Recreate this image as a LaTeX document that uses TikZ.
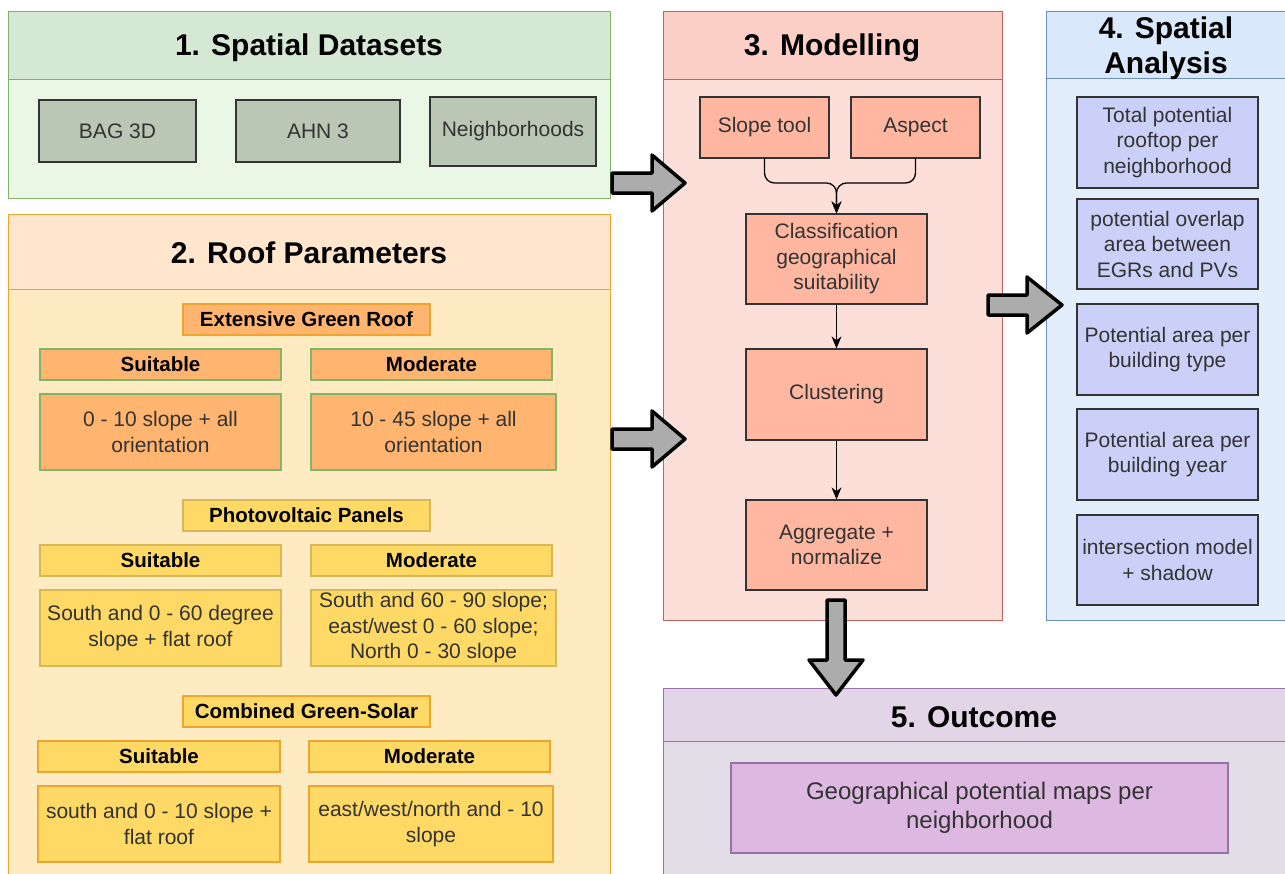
\documentclass[tikz,border=0pt]{standalone}
\usepackage{fontspec}
\setmainfont{Liberation Sans}
\usetikzlibrary{arrows.meta}

\definecolor{grnHead}{HTML}{D5E8D4}
\definecolor{grnBody}{HTML}{E9F7E4}
\definecolor{grnLine}{HTML}{82B366}
\definecolor{dataFill}{HTML}{BAC7B4}
\definecolor{orgHead}{HTML}{FFE6CC}
\definecolor{orgBody}{HTML}{FFEBC2}
\definecolor{orgLine}{HTML}{EFA430}
\definecolor{egrFill}{HTML}{FFB570}
\definecolor{pvFill}{HTML}{FFD966}
\definecolor{pvLine}{HTML}{D6B656}
\definecolor{redHead}{HTML}{FCCFC6}
\definecolor{redBody}{HTML}{FDDFD9}
\definecolor{redLine}{HTML}{C2625B}
\definecolor{salmon}{HTML}{FFB7A1}
\definecolor{bluHead}{HTML}{DAE8FC}
\definecolor{bluBody}{HTML}{E3EEFC}
\definecolor{bluLine}{HTML}{6C8EBF}
\definecolor{bluBox}{HTML}{CBD0F8}
\definecolor{purHead}{HTML}{E1D5E7}
\definecolor{purBody}{HTML}{E2DDE6}
\definecolor{purLine}{HTML}{9673A6}
\definecolor{purBox}{HTML}{DDB8E1}
\definecolor{arrowGray}{HTML}{ACACAC}

\tikzset{every picture/.style={line width=0.75pt}}
\tikzset{
  panel/.style={line width=1pt},
  title/.style={font=\fontsize{30}{35}\selectfont\bfseries, align=center},
  box/.style={draw=black!80, line width=1.3pt, align=center, inner sep=0pt,
    font=\fontsize{21}{25.5}\selectfont, text=black!80},
  subbox/.style={draw, line width=1.3pt, align=center, inner sep=0pt,
    minimum height=31, font=\fontsize{20.5}{24}\selectfont\bfseries},
  valbox/.style={draw, line width=1.3pt, align=center, inner sep=0pt,
    minimum height=76, font=\fontsize{21}{25.5}\selectfont, text=black!80},
  flow/.style={line width=1.3pt, rounded corners=10, -{Stealth[length=12pt,width=10pt]}},
  bigarrow/.style={draw=black, fill=arrowGray, line width=3.5pt, line join=round}
}

\begin{document}
\begin{tikzpicture}[x=1pt,y=1pt,yscale=-1,xscale=1]
\clip (0,0) rectangle (1285,873);
\fill[white] (0,0) rectangle (1285,873);

%Panel: Spatial Datasets
\draw [panel, draw=grnLine, fill=grnBody] (8,11) rectangle (610,198);
\draw [panel, draw=grnLine, fill=grnHead] (8,11) rectangle (610,79);
%Panel: Roof Parameters
\draw [panel, draw=orgLine, fill=orgBody] (8,214) rectangle (610,900);
\draw [panel, draw=orgLine, fill=orgHead] (8,214) rectangle (610,289);
%Panel: Modelling
\draw [panel, draw=redLine, fill=redBody] (663,11) rectangle (1002,620);
\draw [panel, draw=redLine, fill=redHead] (663,11) rectangle (1002,79);
%Panel: Spatial Analysis
\draw [panel, draw=bluLine, fill=bluBody] (1046,11) rectangle (1295,620);
\draw [panel, draw=bluLine, fill=bluHead] (1046,11) rectangle (1295,78);
%Panel: Outcome
\draw [panel, draw=purLine, fill=purBody] (663,688) rectangle (1295,900);
\draw [panel, draw=purLine, fill=purHead] (663,688) rectangle (1295,741);

% Titles
\node [title] (t1) at (309,48) {1. Spatial Datasets};
\node [title] (t2) at (309,253) {2. Roof Parameters};
\node [title] (t3) at (832,48) {3. Modelling};
\node [title] (t4) at (1166,48) {4. Spatial\\Analysis};
\node [title] (t5) at (974,717) {5. Outcome};

% Datasets
\node [box, fill=dataFill, minimum width=157, minimum height=62] (bag) at (117.5,131) {BAG 3D};
\node [box, fill=dataFill, minimum width=164, minimum height=62] (ahn) at (318,131) {AHN 3};
\node [box, fill=dataFill, minimum width=166, minimum height=69] (nbh) at (513,131.5) {Neighborhoods};

% Extensive Green Roof
\node [subbox, draw=orgLine, fill=egrFill, minimum width=247] (egr) at (306.5,319.5) {Extensive Green Roof};
\node [subbox, draw=grnLine, fill=egrFill, minimum width=241] (egrS) at (160.5,364.5) {Suitable};
\node [subbox, draw=grnLine, fill=egrFill, minimum width=241] (egrM) at (431.5,364.5) {Moderate};
\node [valbox, draw=grnLine, fill=egrFill, minimum width=241] (egrSv) at (160.5,432) {0 - 10 slope + all\\orientation};
\node [valbox, draw=grnLine, fill=egrFill, minimum width=245] (egrMv) at (433.5,432) {10 - 45 slope + all\\orientation};

% Photovoltaic Panels
\node [subbox, draw=pvLine, fill=pvFill, minimum width=247] (pv) at (306.5,515.5) {Photovoltaic Panels};
\node [subbox, draw=pvLine, fill=pvFill, minimum width=241] (pvS) at (160.5,560.5) {Suitable};
\node [subbox, draw=pvLine, fill=pvFill, minimum width=241] (pvM) at (431.5,560.5) {Moderate};
\node [valbox, draw=pvLine, fill=pvFill, minimum width=241] (pvSv) at (160.5,628) {South and 0 - 60 degree\\slope + flat roof};
\node [valbox, draw=pvLine, fill=pvFill, minimum width=245] (pvMv) at (433.5,628) {South and 60 - 90 slope;\\east/west 0 - 60 slope;\\North 0 - 30 slope};

% Combined Green-Solar
\node [subbox, draw=orgLine, fill=pvFill, minimum width=247] (cgs) at (306.5,711.5) {Combined Green-Solar};
\node [subbox, draw=orgLine, fill=pvFill, minimum width=242] (cgsS) at (159,756.5) {Suitable};
\node [subbox, draw=orgLine, fill=pvFill, minimum width=241] (cgsM) at (429.5,756.5) {Moderate};
\node [valbox, draw=orgLine, fill=pvFill, minimum width=242] (cgsSv) at (159,824) {south and 0 - 10 slope +\\flat roof};
\node [valbox, draw=orgLine, fill=pvFill, minimum width=244] (cgsMv) at (431,824) {east/west/north and - 10\\slope};

% Modelling
\node [box, fill=salmon, minimum width=129, minimum height=61] (slope) at (764.5,127.5) {Slope tool};
\node [box, fill=salmon, minimum width=129, minimum height=61] (aspect) at (915.5,127.5) {Aspect};
\node [box, fill=salmon, minimum width=181, minimum height=90] (classif) at (836.5,259) {Classification\\geographical\\suitability};
\node [box, fill=salmon, minimum width=181, minimum height=91] (clust) at (836.5,394.5) {Clustering};
\node [box, fill=salmon, minimum width=181, minimum height=90] (aggr) at (836.5,545) {Aggregate +\\normalize};
\coordinate (merge) at (836.5,183);

\draw [flow] (slope.south) |- (merge) -- (classif.north);
\draw [flow] (aspect.south) |- (merge) -- (classif.north);
\draw [flow] (classif) -- (clust);
\draw [flow] (clust) -- (aggr);

% Spatial Analysis
\node [box, fill=bluBox, minimum width=181, minimum height=91] (sa1) at (1167.5,142.5) {Total potential\\rooftop per\\neighborhood};
\node [box, fill=bluBox, minimum width=181, minimum height=90] (sa2) at (1167.5,244) {potential overlap\\area between\\EGRs and PVs};
\node [box, fill=bluBox, minimum width=181, minimum height=91] (sa3) at (1167.5,349.5) {Potential area per\\building type};
\node [box, fill=bluBox, minimum width=181, minimum height=91] (sa4) at (1167.5,454.5) {Potential area per\\building year};
\node [box, fill=bluBox, minimum width=181, minimum height=90] (sa5) at (1167.5,560) {intersection model\\+ shadow};

% Outcome
\node [box, draw=purLine, fill=purBox, minimum width=497, minimum height=90,
  font=\fontsize{24}{29}\selectfont] (geo) at (979.5,808) {Geographical potential maps per\\neighborhood};

% Block arrows
\draw [bigarrow, shift={(612,183)}] (0,-10) -- (40,-10) -- (40,-28) -- (73,0) -- (40,28) -- (40,10) -- (0,10) -- cycle;
\draw [bigarrow, shift={(612,439)}] (0,-10) -- (40,-10) -- (40,-28) -- (73,0) -- (40,28) -- (40,10) -- (0,10) -- cycle;
\draw [bigarrow, shift={(988,305)}] (0,-10) -- (39,-10) -- (39,-28) -- (74,0) -- (39,28) -- (39,10) -- (0,10) -- cycle;
\draw [bigarrow, shift={(836,600)}] (-9,0) -- (-9,60) -- (-27,60) -- (0,95) -- (27,60) -- (9,60) -- (9,0) -- cycle;

\end{tikzpicture}
\end{document}
